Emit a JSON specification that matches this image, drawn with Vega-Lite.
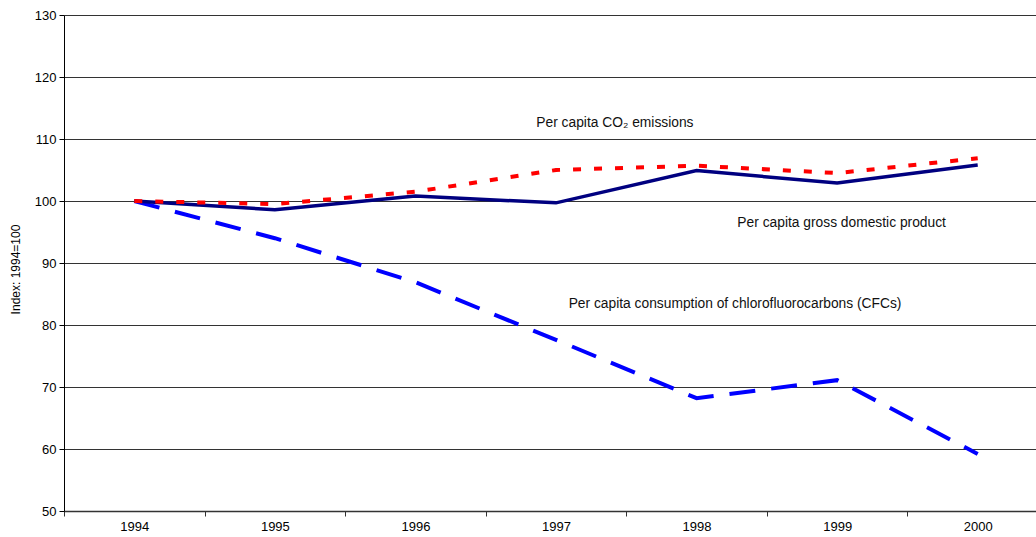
{
  "$schema": "https://vega.github.io/schema/vega-lite/v6.json",
  "width": 984,
  "height": 496,
  "padding": {"left": 9, "top": 9, "right": 0, "bottom": 5},
  "background": "white",
  "config": {
    "view": {"stroke": null},
    "font": "Liberation Sans",
    "axis": {"labelFont": "Liberation Sans", "titleFont": "Liberation Sans", "labelColor": "#000", "titleColor": "#000"}
  },
  "datasets": {
    "series": [
      {"year": "1994", "series": "CFC", "value": 100},
      {"year": "1995", "series": "CFC", "value": 94.0},
      {"year": "1996", "series": "CFC", "value": 86.9},
      {"year": "1997", "series": "CFC", "value": 77.6},
      {"year": "1998", "series": "CFC", "value": 68.2},
      {"year": "1999", "series": "CFC", "value": 71.1},
      {"year": "2000", "series": "CFC", "value": 59.2},
      {"year": "1994", "series": "GDP", "value": 100},
      {"year": "1995", "series": "GDP", "value": 98.6},
      {"year": "1996", "series": "GDP", "value": 100.8},
      {"year": "1997", "series": "GDP", "value": 99.7},
      {"year": "1998", "series": "GDP", "value": 104.9},
      {"year": "1999", "series": "GDP", "value": 102.9},
      {"year": "2000", "series": "GDP", "value": 105.8},
      {"year": "1994", "series": "CO2", "value": 100},
      {"year": "1995", "series": "CO2", "value": 99.5},
      {"year": "1996", "series": "CO2", "value": 101.5},
      {"year": "1997", "series": "CO2", "value": 105.0},
      {"year": "1998", "series": "CO2", "value": 105.7},
      {"year": "1999", "series": "CO2", "value": 104.5},
      {"year": "2000", "series": "CO2", "value": 106.9}
    ],
    "labels": [
      {"x": 1996.86, "y": 112.6, "text": "Per capita CO₂ emissions"},
      {"x": 1998.29, "y": 96.5, "text": "Per capita gross domestic product"},
      {"x": 1997.09, "y": 83.4, "text": "Per capita consumption of chlorofluorocarbons (CFCs)"}
    ]
  },
  "layer": [
    {
      "data": {"name": "series"},
      "encoding": {
        "x": {
          "field": "year", "type": "ordinal",
          "scale": {"paddingInner": 0, "paddingOuter": 0},
          "axis": {
            "title": null, "labelAngle": 0, "labelFontSize": 13, "tickBand": "extent",
            "tickSize": 5, "tickColor": "#333", "domainColor": "#333", "domainWidth": 1.5,
            "labelPadding": 4, "grid": false
          }
        },
        "y": {
          "field": "value", "type": "quantitative",
          "scale": {"domain": [50, 130], "nice": false, "zero": false},
          "axis": {
            "title": "Index: 1994=100", "titleFontSize": 12, "titleFontWeight": "normal",
            "titlePadding": 12, "titleY": 254, "values": [50, 60, 70, 80, 90, 100, 110, 120, 130],
            "labelFontSize": 13, "tickSize": 5, "tickColor": "#000", "domainColor": "#000",
            "grid": true, "gridColor": "#333", "gridWidth": 1, "labelPadding": 3
          }
        }
      },
      "layer": [
        {
          "transform": [{"filter": "datum.series === 'CFC'"}],
          "mark": {"type": "line", "color": "#0000ff", "strokeWidth": 4, "strokeDash": [26, 16]}
        },
        {
          "transform": [{"filter": "datum.series === 'GDP'"}],
          "mark": {"type": "line", "color": "#000080", "strokeWidth": 3.5}
        },
        {
          "transform": [{"filter": "datum.series === 'CO2'"}],
          "mark": {"type": "line", "color": "#ff0000", "strokeWidth": 4, "strokeDash": [8, 13]}
        }
      ]
    },
    {
      "data": {"name": "labels"},
      "mark": {"type": "text", "align": "left", "baseline": "middle", "fontSize": 13.8, "color": "#111", "font": "Liberation Sans"},
      "encoding": {
        "x": {"field": "x", "type": "quantitative", "scale": {"domain": [1993.5, 2000.5], "nice": false, "zero": false}, "axis": null},
        "y": {"field": "y", "type": "quantitative"},
        "text": {"field": "text"}
      }
    }
  ],
  "resolve": {"scale": {"x": "independent"}}
}
